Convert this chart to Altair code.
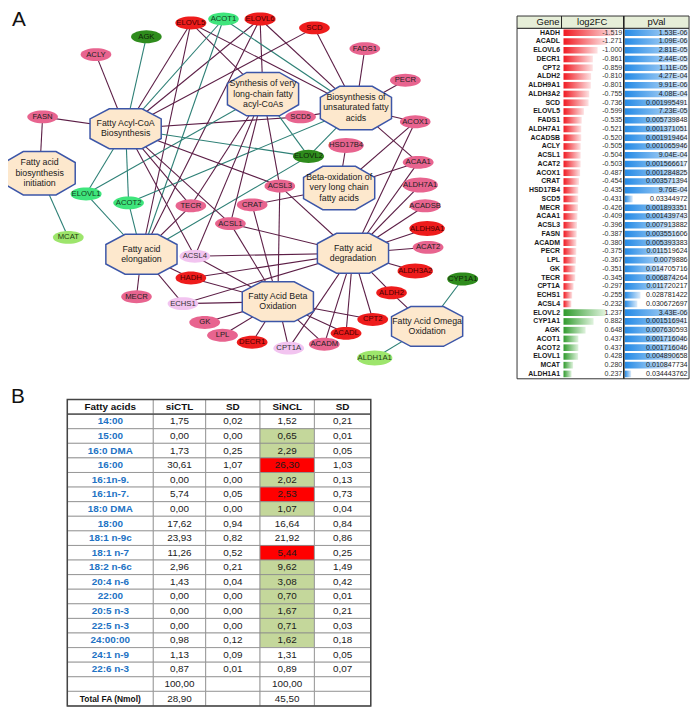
import altair as alt
import numpy as np
import pandas as pd

OFF = 8  # page margin; reference pixel x -> chart pixel x - OFF
FONT = "Liberation Sans"

# ======================= DATA =======================
# --- gene table (panel A, right) ---
GENES = ["HADH", "ACADL", "ELOVL6", "DECR1", "CPT2", "ALDH2", "ALDH9A1", "ALDH3A2", "SCD", "ELOVL5",
         "FADS1", "ALDH7A1", "ACADSB", "ACLY", "ACSL1", "ACAT2", "ACOX1", "CRAT", "HSD17B4", "SCD5",
         "MECR", "ACAA1", "ACSL3", "FASN", "ACADM", "PECR", "LPL", "GK", "TECR", "CPT1A",
         "ECHS1", "ACSL4", "ELOVL2", "CYP1A1", "AGK", "ACOT1", "ACOT2", "ELOVL1", "MCAT", "ALDH1A1"]
LOG2FC = [-1.519, -1.271, -1.000, -0.861, -0.859, -0.810, -0.801, -0.755, -0.736, -0.599,
          -0.535, -0.521, -0.520, -0.505, -0.504, -0.503, -0.487, -0.454, -0.435, -0.431,
          -0.426, -0.409, -0.396, -0.387, -0.380, -0.375, -0.367, -0.351, -0.345, -0.297,
          -0.255, -0.232, 1.237, 0.882, 0.648, 0.437, 0.437, 0.428, 0.280, 0.237]
PVAL_LABELS = ["1.53E-06", "1.09E-06", "2.81E-05", "2.44E-05", "1.11E-05", "4.27E-04", "9.91E-06",
               "4.08E-04", "0.001995491", "7.23E-05", "0.005739848", "0.001371051", "0.001919464",
               "0.001065946", "9.04E-04", "0.001566617", "0.001284825", "0.003571394", "9.76E-04",
               "0.03344972", "0.001893351", "0.001439743", "0.007913882", "0.003551606",
               "0.005393383", "0.011519624", "0.0079886", "0.014705716", "0.006874264",
               "0.011720217", "0.028781422", "0.030672697", "3.43E-06", "0.001516941",
               "0.007630593", "0.001716046", "0.001716046", "0.004890658", "0.010847734",
               "0.034443762"]
TABLE_A_HEADER = ["Gene", "log2FC", "pVal"]

# --- network (panel A, left) ---
PATHWAY_IDS = ["init", "acyl", "vlc", "unsat", "bvlc", "elong", "degr", "beta", "omega"]
PATHWAY_LABELS = [
    "Fatty acid\nbiosynthesis\ninitiation",
    "Fatty Acyl-CoA\nBiosynthesis",
    "Synthesis of very\nlong-chain fatty\nacyl-CoAs",
    "Biosynthesis of\nunsaturated fatty\nacids",
    "Beta-oxidation of\nvery long chain\nfatty acids",
    "Fatty acid\nelongation",
    "Fatty acid\ndegradation",
    "Fatty Acid Beta\nOxidation",
    "Fatty Acid Omega\nOxidation",
]
NODE_GENES = ["ELOVL5", "ACOT1", "ELOVL6", "SCD", "AGK", "ACLY", "FADS1", "PECR", "FASN", "SCD5",
              "ACOX1", "HSD17B4", "ELOVL2", "ACAA1", "ALDH7A1", "ACSL3", "ELOVL1", "ACOT2", "MCAT",
              "TECR", "CRAT", "ACSL1", "ACADSB", "ALDH9A1", "ACSL4", "ACAT2", "HADH", "ALDH3A2",
              "ECHS1", "MECR", "ALDH2", "GK", "CYP1A1", "CPT2", "LPL", "ACADL", "DECR1", "ACADM",
              "CPT1A", "ALDH1A1"]
EDGE_GENES = ["FASN", "FASN", "MCAT", "ACLY", "AGK",
              "ELOVL5", "ELOVL5", "ELOVL5", "ELOVL5", "ELOVL6", "ELOVL6", "ELOVL6", "ELOVL6",
              "ACOT1", "ACOT1", "ACOT1", "SCD", "SCD", "SCD5", "SCD5", "FADS1", "PECR",
              "ACOX1", "ACOX1", "ACOX1", "HSD17B4", "ACAA1", "ACAA1", "ACAA1",
              "ELOVL2", "ELOVL2", "ELOVL2", "ELOVL2", "ELOVL1", "ELOVL1", "ELOVL1",
              "ACOT2", "ACOT2", "ACOT2",
              "ALDH7A1", "ACADSB", "ALDH9A1", "ACAT2", "ALDH3A2", "ALDH2", "ALDH2", "CYP1A1", "ALDH1A1",
              "CPT2", "CPT2", "ACADL", "ACADL", "ACADM", "ACADM", "CPT1A", "CPT1A",
              "DECR1", "LPL", "GK", "ECHS1", "ECHS1", "ECHS1", "HADH", "HADH", "HADH",
              "ACSL4", "ACSL4", "ACSL4", "ACSL4", "ACSL1", "ACSL1", "ACSL1", "ACSL1",
              "ACSL3", "ACSL3", "ACSL3", "ACSL3", "CRAT", "CRAT", "TECR", "TECR", "TECR", "MECR"]
EDGE_PATHWAYS = ["init", "acyl", "init", "acyl", "acyl",
                 "acyl", "vlc", "unsat", "elong", "acyl", "vlc", "unsat", "elong",
                 "acyl", "unsat", "elong", "acyl", "unsat", "acyl", "unsat", "unsat", "unsat",
                 "unsat", "bvlc", "degr", "bvlc", "unsat", "bvlc", "degr",
                 "acyl", "vlc", "unsat", "elong", "acyl", "vlc", "elong",
                 "acyl", "unsat", "elong",
                 "degr", "degr", "degr", "degr", "degr", "degr", "omega", "omega", "omega",
                 "degr", "beta", "degr", "beta", "degr", "beta", "degr", "beta",
                 "beta", "beta", "beta", "elong", "degr", "beta", "elong", "degr", "beta",
                 "acyl", "vlc", "degr", "beta", "acyl", "vlc", "degr", "beta",
                 "acyl", "vlc", "degr", "beta", "bvlc", "beta", "acyl", "vlc", "elong", "elong"]

# --- panel B table ---
FA_NAMES = ["14:00", "15:00", "16:0 DMA", "16:00", "16:1n-9.", "16:1n-7.", "18:0 DMA", "18:00",
            "18:1 n-9c", "18:1 n-7", "18:2 n-6c", "20:4 n-6", "22:00", "20:5 n-3", "22:5 n-3",
            "24:00:00", "24:1 n-9", "22:6 n-3"]
SICTL = [1.75, 0.00, 1.73, 30.61, 0.00, 5.74, 0.00, 17.62, 23.93, 11.26, 2.96, 1.43, 0.00, 0.00,
         0.00, 0.98, 1.13, 0.87]
SICTL_SD = [0.02, 0.00, 0.25, 1.07, 0.00, 0.05, 0.00, 0.94, 0.82, 0.52, 0.21, 0.04, 0.00, 0.00,
            0.00, 0.12, 0.09, 0.01]
SINCL = [1.52, 0.65, 2.29, 26.30, 2.02, 2.53, 1.07, 16.64, 21.92, 5.44, 9.62, 3.08, 0.70, 1.67,
         0.71, 1.62, 1.31, 0.89]
SINCL_SD = [0.21, 0.01, 0.05, 1.03, 0.13, 0.73, 0.04, 0.84, 0.86, 0.25, 1.49, 0.42, 0.01, 0.21,
            0.03, 0.18, 0.05, 0.07]
SINCL_CHANGE = ["", "up", "up", "down", "up", "down", "up", "", "", "down", "up", "up", "up",
                "up", "up", "up", "", ""]
TABLE_B_HEADER = ["Fatty acids", "siCTL", "SD", "SiNCL", "SD"]
SUM_CTL, SUM_NCL = 100.00, 100.00
TOTAL_LABEL = "Total FA (Nmol)"
TOTAL_CTL, TOTAL_NCL = 28.90, 45.50

# ======================= LAYOUT (reference pixel space) =======================
PATHWAY_X = [40, 127, 266, 360, 343, 143, 357, 281, 432]
PATHWAY_Y = [171, 126, 91, 105, 186, 253, 252, 301, 326]
GENE_X = [193, 226, 263, 318, 148, 97, 369, 410, 43, 304, 420, 350, 312, 423, 425, 283, 87, 130, 69,
          193, 255, 233, 430, 432, 197, 433, 193, 420, 185, 138, 396, 207, 468, 377, 225, 350, 255,
          328, 292, 379]
GENE_Y = [19, 15, 15, 24, 33, 51, 45, 77, 114, 114, 119, 143, 154, 160, 183, 184, 192, 201, 236,
          204, 203, 222, 204, 227, 255, 246, 277, 270, 303, 296, 292, 322, 278, 319, 335, 333, 342,
          344, 348, 358]
COL_EDGES_B = [68, 155, 208, 263, 318, 375]
TB_TOP, TB_BOTTOM = 400, 710
TA_LEFT, TA_RIGHT, TA_TOP, TA_HEAD, TA_BOTTOM = 523, 697, 12, 24.5, 379
TA_COL1, TA_COL2 = 568, 631

# ======================= STYLES =======================
NODE_BREAKS = [-0.59, -0.3, 0, 0.4, 0.6]
NODE_COLORS = ["#ee1c1c", "#e8648f", "#f2c4f0", "#9de56c", "#3fe57c", "#2f8c1d"]
NODE_TEXT = ["#4a0000", "#222222", "#333333", "#1d3d10", "#123d20", "#0e1e08"]
EDGE_COLORS = ["#5c1e46", "#2e8076"]
OCT_FILL, OCT_STROKE = "#fde8cd", "#3c56a8"
OCT_LH = 10.3

t = np.linspace(0, 2 * np.pi, 37)[:-1]
ELLIPSE = "M" + "L".join(f"{np.cos(a):.3f},{0.42 * np.sin(a):.3f}" for a in t) + "Z"


def octagon(h):
    s = h * 0.49
    return (f"M-0.46,-{h}L0.46,-{h}L1,-{s:.3f}L1,{s:.3f}L0.46,{h}L-0.46,{h}"
            f"L-1,{s:.3f}L-1,-{s:.3f}Z")


OCT2 = octagon(0.56)
OCT3 = octagon(0.61)

NET_X = alt.Scale(domain=[0, 700], range=[-OFF, 700 - OFF], nice=False, zero=False)
NET_Y = alt.Scale(domain=[0, 713], range=[-OFF, 713 - OFF], nice=False, zero=False)


def X(f, **kw):
    return alt.X(f, scale=NET_X, axis=None, **kw)


def Y(f, **kw):
    return alt.Y(f, scale=NET_Y, axis=None, **kw)


layers = []

# ---------- panel labels ----------
lab = pd.DataFrame({"t": ["A", "B"], "x": [19, 18], "y": [16, 398]})
layers.append(alt.Chart(lab).mark_text(fontSize=21, font=FONT, color="#111").encode(
    x=X("x:Q"), y=Y("y:Q"), text="t:N"))

# ---------- network ----------
fcmap = dict(zip(GENES, LOG2FC))
gpos = dict(zip(NODE_GENES, zip(GENE_X, GENE_Y)))
ppos = dict(zip(PATHWAY_IDS, zip(PATHWAY_X, PATHWAY_Y)))
edf = pd.DataFrame([{"x": gpos[g][0], "y": gpos[g][1], "x2": ppos[p][0], "y2": ppos[p][1],
                     "dir": "up" if fcmap[g] > 0 else "down"}
                    for g, p in zip(EDGE_GENES, EDGE_PATHWAYS)])
layers.append(alt.Chart(edf).mark_rule(strokeWidth=1.1).encode(
    x=X("x:Q"), y=Y("y:Q"), x2="x2:Q", y2="y2:Q",
    color=alt.Color("dir:N", scale=alt.Scale(domain=["down", "up"], range=EDGE_COLORS), legend=None)))

ndf = pd.DataFrame({"gene": NODE_GENES, "x": GENE_X, "y": GENE_Y})
ndf["fc"] = ndf["gene"].map(fcmap)
layers.append(alt.Chart(ndf).transform_calculate(
    sz="max(961, pow(4.4*length(datum.gene)+5, 2))"
).mark_point(shape=ELLIPSE, filled=True, opacity=1, strokeWidth=0).encode(
    x=X("x:Q"), y=Y("y:Q"), size=alt.Size("sz:Q", scale=None, legend=None),
    color=alt.Color("fc:Q", scale=alt.Scale(type="threshold", domain=NODE_BREAKS, range=NODE_COLORS),
                    legend=None)))
layers.append(alt.Chart(ndf).mark_text(fontSize=7.8, font=FONT).encode(
    x=X("x:Q"), y=Y("y:Q"), text="gene:N",
    color=alt.Color("fc:Q", scale=alt.Scale(type="threshold", domain=NODE_BREAKS, range=NODE_TEXT),
                    legend=None)))

pdf = pd.DataFrame({"label": PATHWAY_LABELS, "x": PATHWAY_X, "y": PATHWAY_Y})
pdf["nl"] = [lbl.count("\n") + 1 for lbl in PATHWAY_LABELS]
pdf["shp"] = [OCT3 if n == 3 else OCT2 for n in pdf["nl"]]
layers.append(alt.Chart(pdf).mark_point(size=5184, filled=True, fill=OCT_FILL,
                                        stroke=OCT_STROKE, strokeWidth=1.5, opacity=1).encode(
    x=X("x:Q"), y=Y("y:Q"), shape=alt.Shape("shp:N", scale=None, legend=None)))
for n in sorted(pdf["nl"].unique()):
    layers.append(alt.Chart(pdf[pdf.nl == n]).mark_text(
        fontSize=8.9, lineHeight=OCT_LH, lineBreak="\n", font=FONT, color="#1a1a1a",
        dy=-(n - 1) * OCT_LH / 2 - 0.5).encode(x=X("x:Q"), y=Y("y:Q"), text="label:N"))

# ---------- gene table ----------
gt = pd.DataFrame({"gene": GENES, "fc": LOG2FC, "plabel": PVAL_LABELS})
gt["row"] = np.arange(len(gt))
gt["p"] = gt["plabel"].astype(float)
gt["absfc"] = gt["fc"].abs()
gt["fclabel"] = gt["fc"].map(lambda v: f"{v:.3f}")
pmax, pmin = gt["p"].max(), gt["p"].min()
gt["pbar"] = 0.1 + 0.9 * (pmax - gt["p"]) / (pmax - pmin)
gt["y0"] = gt["row"] - 0.38
gt["y1"] = gt["row"] + 0.38
gt["zero"] = 0.0

ROW_Y = alt.Scale(domain=[-0.5, len(GENES) - 0.5], range=[TA_HEAD - OFF, TA_BOTTOM - 0.5 - OFF],
                  nice=False, zero=False)
FC_X = alt.Scale(domain=[0, 1], range=[570 - OFF, 604.5 - OFF], nice=False, zero=False)
P_X = alt.Scale(domain=[0, 1], range=[TA_COL2 + 1 - OFF, TA_RIGHT - 1 - OFF], nice=False, zero=False)


def grad(c0, c1):
    return alt.LinearGradient(gradient="linear", x1=0, x2=1, y1=0, y2=0,
                              stops=[alt.GradientStop(color=c0, offset=0),
                                     alt.GradientStop(color=c1, offset=1)])


frame_a = pd.DataFrame({"x": [TA_LEFT], "x2": [TA_RIGHT], "y": [TA_TOP], "y2": [TA_HEAD]})
layers.append(alt.Chart(frame_a).mark_rect(fill="#e6eed8", stroke="#333", strokeWidth=1).encode(
    x=X("x:Q"), x2="x2:Q", y=Y("y:Q"), y2="y2:Q"))
frame_b = pd.DataFrame({"x": [TA_LEFT], "x2": [TA_RIGHT], "y": [TA_HEAD], "y2": [TA_BOTTOM]})
layers.append(alt.Chart(frame_b).mark_rect(fill="white", stroke="#333", strokeWidth=1).encode(
    x=X("x:Q"), x2="x2:Q", y=Y("y:Q"), y2="y2:Q"))

for cond, g in [("datum.fc < 0", grad("#f01a22", "#fde3e4")), ("datum.fc > 0", grad("#2f9a2c", "#e0f3de"))]:
    layers.append(alt.Chart(gt).transform_filter(cond).mark_rect(color=g).encode(
        x=alt.X("zero:Q", scale=FC_X, axis=None), x2="absfc:Q",
        y=alt.Y("y0:Q", scale=ROW_Y, axis=None), y2="y1:Q"))
layers.append(alt.Chart(gt).mark_rect(color=grad("#248ae6", "#dcebfa")).encode(
    x=alt.X("zero:Q", scale=P_X, axis=None), x2="pbar:Q",
    y=alt.Y("y0:Q", scale=ROW_Y, axis=None), y2="y1:Q"))

# column separators
seps = pd.DataFrame({"x": [TA_COL1, TA_COL2], "y": [TA_TOP, TA_TOP], "y2": [TA_HEAD, TA_BOTTOM],
                     "w": [1.0, 1.6]})
layers.append(alt.Chart(seps).mark_rule(color="#222").encode(
    x=X("x:Q"), y=Y("y:Q"), y2="y2:Q", strokeWidth=alt.StrokeWidth("w:Q", scale=None, legend=None)))

hdr = pd.DataFrame({"t": TABLE_A_HEADER, "x": [566, 599, 664], "y": [18.5] * 3, "a": ["right", "center", "center"]})
for a in ["right", "center"]:
    layers.append(alt.Chart(hdr[hdr.a == a]).mark_text(fontSize=9.5, font=FONT, align=a, color="#111").encode(
        x=X("x:Q"), y=Y("y:Q"), text="t:N"))

layers.append(alt.Chart(gt).mark_text(fontSize=7, font=FONT, fontWeight="bold", align="right",
                                      color="#1a1a1a").encode(
    x=alt.X(datum=566.5, scale=NET_X, axis=None), y=alt.Y("row:Q", scale=ROW_Y, axis=None), text="gene:N"))
layers.append(alt.Chart(gt).mark_text(fontSize=7.2, font=FONT, align="right", color="#333").encode(
    x=alt.X(datum=629.5, scale=NET_X, axis=None), y=alt.Y("row:Q", scale=ROW_Y, axis=None), text="fclabel:N"))
layers.append(alt.Chart(gt).mark_text(fontSize=7.2, font=FONT, align="right", color="#222").encode(
    x=alt.X(datum=695.5, scale=NET_X, axis=None), y=alt.Y("row:Q", scale=ROW_Y, axis=None), text="plabel:N"))

# ---------- panel B table ----------
def fmt(v):
    return f"{v:.2f}".replace(".", ",")


cells = []
n_rows = 1 + len(FA_NAMES) + 2
for c, h in enumerate(TABLE_B_HEADER):
    cells.append({"r": 0, "c": c, "t": h, "fill": "white", "kind": "head"})
for i, name in enumerate(FA_NAMES):
    r = i + 1
    chg = SINCL_CHANGE[i]
    vals = [name, fmt(SICTL[i]), fmt(SICTL_SD[i]), fmt(SINCL[i]), fmt(SINCL_SD[i])]
    for c, v in enumerate(vals):
        fill = "white"
        if c == 3 and chg == "up":
            fill = "#c4d79b"
        elif c == 3 and chg == "down":
            fill = "#ff0000"
        cells.append({"r": r, "c": c, "t": v, "fill": fill, "kind": "name" if c == 0 else "val"})
r = len(FA_NAMES) + 1
for c, v in enumerate(["", fmt(SUM_CTL), "", fmt(SUM_NCL), ""]):
    cells.append({"r": r, "c": c, "t": v, "fill": "white", "kind": "val"})
r += 1
for c, v in enumerate([TOTAL_LABEL, fmt(TOTAL_CTL), "", fmt(TOTAL_NCL), ""]):
    cells.append({"r": r, "c": c, "t": v, "fill": "white", "kind": "total" if c == 0 else "val"})
cdf = pd.DataFrame(cells)
cdf["x0"] = cdf["c"].map(lambda c: COL_EDGES_B[c])
cdf["x1"] = cdf["c"].map(lambda c: COL_EDGES_B[c + 1])
cdf["xm"] = (cdf["x0"] + cdf["x1"]) / 2
cdf["r1"] = cdf["r"] + 1
cdf["rm"] = cdf["r"] + 0.5

TB_Y = alt.Scale(domain=[0, n_rows], range=[TB_TOP - OFF, TB_BOTTOM - OFF], nice=False, zero=False)

layers.append(alt.Chart(cdf).mark_rect(stroke="#8a8a8a", strokeWidth=0.8).encode(
    x=X("x0:Q"), x2="x1:Q", y=alt.Y("r:Q", scale=TB_Y, axis=None), y2="r1:Q",
    color=alt.Color("fill:N", scale=None, legend=None)))
frame_tb = pd.DataFrame({"x": [COL_EDGES_B[0]], "x2": [COL_EDGES_B[-1]], "r": [0], "r2": [n_rows]})
layers.append(alt.Chart(frame_tb).mark_rect(fill=None, stroke="#444", strokeWidth=1.5).encode(
    x=X("x:Q"), x2="x2:Q", y=alt.Y("r:Q", scale=TB_Y, axis=None), y2="r2:Q"))
hline = pd.DataFrame({"x": [COL_EDGES_B[0]], "x2": [COL_EDGES_B[-1]], "r": [1]})
layers.append(alt.Chart(hline).mark_rule(color="#444", strokeWidth=1.2).encode(
    x=X("x:Q"), x2="x2:Q", y=alt.Y("r:Q", scale=TB_Y, axis=None)))

styles = {
    "head": dict(fontSize=10, fontWeight="bold", color="#111"),
    "name": dict(fontSize=10, fontWeight="bold", color="#2272c4"),
    "val": dict(fontSize=10, fontWeight="normal", color="#1a1a1a"),
    "total": dict(fontSize=8.5, fontWeight="bold", color="#111"),
}
for k, st in styles.items():
    layers.append(alt.Chart(cdf[cdf.kind == k]).mark_text(font=FONT, **st).encode(
        x=X("xm:Q"), y=alt.Y("rm:Q", scale=TB_Y, axis=None), text="t:N"))

chart = alt.layer(*layers).resolve_scale(
    x="independent", y="independent", color="independent", size="independent",
    strokeWidth="independent", shape="independent"
).properties(width=692, height=705, padding=0,
             autosize=alt.AutoSizeParams(type="none")).configure_view(stroke=None)

chart.save("out.html", embed_options={"renderer": "svg", "actions": False})
